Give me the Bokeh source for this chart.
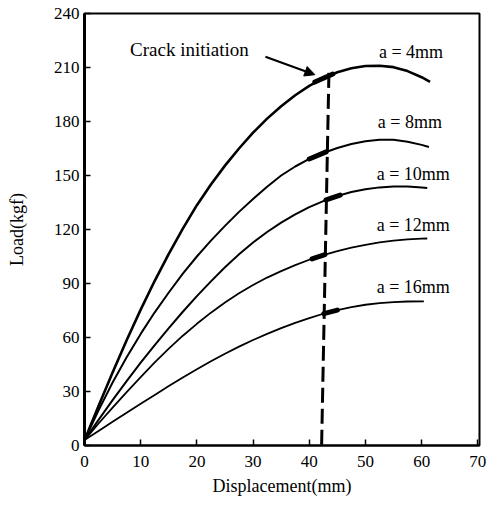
from bokeh.plotting import figure
from bokeh.models import Arrow, NormalHead, Range1d, FixedTicker, Label
from bokeh.embed import file_html
from bokeh.resources import INLINE

# ---- data (displacement mm, load kgf) ----
x_a4 = [0, 2.5, 5, 7.5, 10, 12.5, 15, 17.5, 20, 22.5, 25, 27.5, 30, 32.5, 35, 37.5,
        40, 42.5, 45, 47.5, 50, 52.5, 55, 57.5, 60, 61.5]
y_a4 = [3, 22, 40.5, 58.5, 75.5, 91.5, 106.5, 120.5, 133.5, 145, 155.5, 165, 173.8, 181.6, 188.5, 194.6,
        199.8, 204.1, 207.4, 209.6, 210.8, 211, 210.2, 208, 204.6, 202]

x_a8 = [0, 2.5, 5, 7.5, 10, 12.5, 15, 17.5, 20, 22.5, 25, 27.5, 30, 32.5, 35, 37.5,
        40, 42.5, 45, 47.5, 50, 52.5, 55, 57.5, 60, 61.3]
y_a8 = [3, 19.5, 35, 49, 62, 74, 85, 95.5, 105, 113.8, 122, 129.8, 137, 143.8, 150, 155,
        159.2, 162.5, 165.3, 167.5, 169, 169.8, 169.8, 168.8, 167, 165.8]

x_a10 = [0, 2.5, 5, 7.5, 10, 12.5, 15, 17.5, 20, 22.5, 25, 27.5, 30, 32.5, 35, 37.5,
         40, 42.5, 45, 47.5, 50, 52.5, 55, 57.5, 60, 61]
y_a10 = [3, 14.2, 25.2, 35.8, 46, 55.8, 65.2, 74.3, 83, 91.2, 99, 106.2, 112.8, 118.6, 123.8, 128.4,
         132.4, 135.8, 138.6, 140.8, 142.4, 143.4, 143.9, 143.9, 143.4, 143.1]

x_a12 = [0, 2.5, 5, 7.5, 10, 12.5, 15, 17.5, 20, 22.5, 25, 27.5, 30, 32.5, 35, 37.5,
         40, 42.5, 45, 47.5, 50, 52.5, 55, 57.5, 60, 61]
y_a12 = [3, 12.2, 21, 29.7, 38, 46.2, 53.8, 61, 67.6, 73.8, 79.5, 84.6, 89.2, 93.3, 96.9, 100.2,
         103.2, 105.8, 108, 109.9, 111.5, 112.8, 113.8, 114.5, 114.9, 115]

x_a16 = [0, 2.5, 5, 7.5, 10, 12.5, 15, 17.5, 20, 22.5, 25, 27.5, 30, 32.5, 35, 37.5,
         40, 42.5, 45, 47.5, 50, 52.5, 55, 57.5, 60.4]
y_a16 = [3, 8.1, 13.2, 18.2, 23.2, 28.1, 33, 37.8, 42.4, 46.8, 51, 54.9, 58.6, 62, 65.2, 68.1,
         70.8, 73.2, 75.2, 76.9, 78.2, 79.1, 79.7, 80, 80.1]

curve_labels = ["a = 4mm", "a = 8mm", "a = 10mm", "a = 12mm", "a = 16mm"]
label_x = [52.4, 52.2, 52.0, 52.0, 52.0]
label_y = [218.7, 180, 151, 122.5, 88]

# thick marks near crack initiation
seg_x0 = [41.0, 40.0, 43.0, 40.5, 42.6]
seg_y0 = [201.9, 159.2, 136.4, 103.7, 73.3]
seg_x1 = [44.2, 43.0, 45.5, 42.8, 45.0]
seg_y1 = [206.4, 163.1, 139.1, 106.1, 75.2]

# crack initiation dashed line
crack_line_x = [43.5, 42.2]
crack_line_y = [207, 0]

x_ticks = [0, 10, 20, 30, 40, 50, 60, 70]
y_ticks = [0, 30, 60, 90, 120, 150, 180, 210, 240]

FONT = "Liberation Serif"

p = figure(width=488, height=498, output_backend="svg", toolbar_location=None,
           x_range=Range1d(0, 70.3), y_range=Range1d(0, 240),
           min_border_left=84, min_border_right=9, min_border_top=13, min_border_bottom=50)

p.xgrid.visible = False
p.ygrid.visible = False
p.outline_line_color = "black"
p.outline_line_width = 2
p.background_fill_color = "white"
p.border_fill_color = "white"

for ax in (p.xaxis[0], p.yaxis[0]):
    ax.major_tick_in = 6
    ax.major_tick_out = 0
    ax.minor_tick_in = 0
    ax.minor_tick_out = 0
    ax.major_tick_line_width = 1.5
    ax.major_tick_line_color = "black"
    ax.axis_line_color = "black"
    ax.major_label_text_font = FONT
    ax.major_label_text_font_size = "17px"
    ax.major_label_text_color = "black"
    ax.axis_label_text_font = FONT
    ax.axis_label_text_font_size = "18px"
    ax.axis_label_text_font_style = "normal"
    ax.axis_label_text_color = "black"

p.xaxis.ticker = FixedTicker(ticks=x_ticks)
p.yaxis.ticker = FixedTicker(ticks=y_ticks)
p.xaxis.axis_line_width = 2
p.yaxis.axis_line_width = 3
p.xaxis.axis_label = "Displacement(mm)"
p.yaxis.axis_label = "Load(kgf)"
p.xaxis.major_label_standoff = 10
p.yaxis.major_label_standoff = 5
p.xaxis.axis_label_standoff = 6
p.yaxis.axis_label_standoff = 24

curves = [(x_a4, y_a4, 2.6), (x_a8, y_a8, 2.0), (x_a10, y_a10, 2.0),
          (x_a12, y_a12, 1.8), (x_a16, y_a16, 1.8)]
for xs, ys, w in curves:
    p.line(xs, ys, line_color="black", line_width=w, line_join="round")

p.segment(x0=seg_x0, y0=seg_y0, x1=seg_x1, y1=seg_y1,
          line_color="black", line_width=5, line_cap="round")

p.line(crack_line_x, crack_line_y, line_color="black", line_width=3, line_dash="15 6")

for t, lx, ly in zip(curve_labels, label_x, label_y):
    p.add_layout(Label(x=lx, y=ly, text=t, text_font=FONT, text_font_size="18px",
                       text_baseline="middle", text_align="left", text_color="black"))

p.add_layout(Label(x=8.1, y=220, text="Crack initiation", text_font=FONT,
                   text_font_size="19px", text_baseline="middle", text_align="left",
                   text_color="black"))

p.add_layout(Arrow(end=NormalHead(size=10, fill_color="black", line_color="black"),
                   x_start=32.2, y_start=216, x_end=41.0, y_end=206,
                   line_color="black", line_width=2))

open("out.html", "w").write(file_html(p, INLINE))
